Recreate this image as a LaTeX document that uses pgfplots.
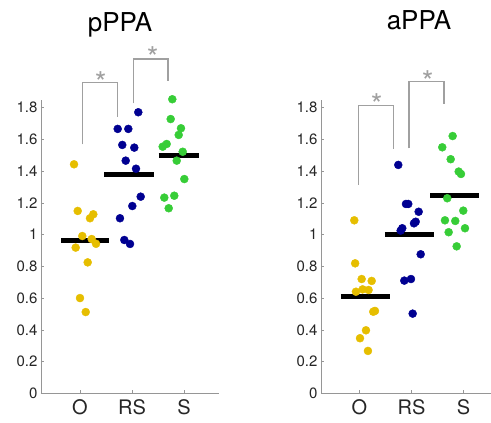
\documentclass[border=0pt]{standalone}
\usepackage{pgfplots}
\pgfplotsset{compat=1.18}
\usepackage{fontspec}
\setmainfont{TeX Gyre Heros}
\definecolor{cy}{RGB}{230,190,0}
\definecolor{cb}{RGB}{0,0,145}
\definecolor{cg}{RGB}{55,205,55}
\definecolor{axgray}{RGB}{150,150,150}
\definecolor{brgray}{RGB}{160,160,160}
\definecolor{txt}{RGB}{38,38,38}
\tikzset{sigstar/.style={anchor=north, inner sep=0pt, text=brgray, font=\fontsize{30}{30}\selectfont}}
\pgfplotsset{
  mypanel/.style={
    scale only axis, width=178pt, height=293.6pt,
    anchor=south west, clip=false,
    ymin=0, ymax=1.85,
    axis x line*=bottom, axis y line*=left,
    axis line style={-, draw=axgray, line width=0.6pt},
    tick style={draw=axgray, line width=0.6pt},
    tick align=inside, major tick length=3pt,
    xtick={1,2,3}, xticklabels={O,RS,S},
    ytick={0,0.2,0.4,0.6,0.8,1,1.2,1.4,1.6,1.8},
    /pgf/number format/assume math mode=true,
    x tick label style={font=\fontsize{20}{20}\selectfont, text=txt, yshift=-2.5pt},
    y tick label style={font=\fontsize{15}{15}\selectfont, text=txt},
  },
  dots/.style={only marks, mark=*, color=#1, mark size=4.0pt, mark options={draw=#1, fill=#1, line width=0.4pt}},
  meanline/.style={black, line width=5pt, line cap=butt},
  bracket/.style={draw=brgray, line width=1.4pt},
}
\begin{document}
\begin{tikzpicture}[x=1pt,y=1pt]
\useasboundingbox (0,0) rectangle (491,423);
% ---------------- left panel: pPPA
\begin{axis}[mypanel, at={(41pt,29.7pt)}, xmin=0.25, xmax=3.673]
\addplot[dots=cy] coordinates {(0.885,1.443) (0.956,1.149) (1.256,1.128) (1.192,1.103) (1.044,0.991) (1.225,0.972) (1.308,0.942) (0.917,0.918) (1.148,0.825) (1.000,0.600) (1.110,0.512)};
\addplot[dots=cb] coordinates {(2.121,1.771) (1.725,1.666) (1.929,1.666) (1.813,1.565) (2.044,1.548) (1.879,1.466) (2.077,1.415) (2.167,1.239) (2.006,1.180) (1.769,1.103) (1.852,0.966) (1.962,0.941)};
\addplot[dots=cg] coordinates {(2.775,1.853) (2.744,1.728) (2.942,1.670) (2.898,1.628) (2.667,1.571) (2.590,1.554) (2.975,1.522) (2.860,1.466) (3.006,1.350) (2.813,1.245) (2.621,1.233) (2.706,1.166)};
\addplot[meanline] coordinates {(0.635,0.962) (1.56,0.962)};
\addplot[meanline] coordinates {(1.47,1.378) (2.43,1.378)};
\addplot[meanline] coordinates {(2.51,1.500) (3.28,1.500)};
\addplot[bracket] coordinates {(1.05,1.569) (1.05,1.960) (1.72,1.960) (1.72,1.743)};
\addplot[bracket] coordinates {(2.03,1.827) (2.03,2.107) (2.69,2.107) (2.69,1.970)};
\node[sigstar] at (axis cs:1.398,2.026) {*};
\node[sigstar] at (axis cs:2.398,2.184) {*};
\node[anchor=base, font=\fontsize{26}{26}\selectfont, text=black] at (axis cs:1.77,2.282) {pPPA};
\end{axis}
% ---------------- right panel: aPPA
\begin{axis}[mypanel, at={(321pt,29.7pt)}, xmin=0.26, xmax=3.683]
\addplot[dots=cy] coordinates {(0.900,1.090) (0.917,0.819) (1.042,0.720) (1.235,0.708) (0.932,0.640) (1.060,0.655) (1.175,0.651) (1.298,0.519) (1.265,0.514) (1.125,0.397) (1.010,0.347) (1.163,0.267)};
\addplot[dots=cb] coordinates {(1.746,1.439) (1.894,1.193) (1.938,1.193) (2.138,1.144) (2.081,1.081) (2.048,1.071) (1.823,1.040) (1.792,1.025) (2.177,0.876) (1.862,0.710) (1.990,0.720) (2.023,0.502)};
\addplot[dots=cg] coordinates {(2.792,1.621) (2.592,1.550) (2.754,1.475) (2.908,1.397) (2.952,1.382) (2.688,1.229) (2.996,1.151) (2.644,1.090) (2.842,1.086) (3.029,1.040) (2.715,1.015) (2.869,0.926)};
\addplot[meanline] coordinates {(0.64,0.607) (1.59,0.607)};
\addplot[meanline] coordinates {(1.49,1.002) (2.44,1.002)};
\addplot[meanline] coordinates {(2.36,1.248) (3.30,1.248)};
\addplot[bracket] coordinates {(0.98,1.313) (0.98,1.812) (1.65,1.812) (1.65,1.537)};
\addplot[bracket] coordinates {(1.955,1.544) (1.955,1.963) (2.625,1.963) (2.625,1.820)};
\node[sigstar] at (axis cs:1.331,1.890) {*};
\node[sigstar] at (axis cs:2.312,2.037) {*};
\node[anchor=base, font=\fontsize{26}{26}\selectfont, text=black] at (axis cs:2.144,2.295) {aPPA};
\end{axis}
\end{tikzpicture}
\end{document}
